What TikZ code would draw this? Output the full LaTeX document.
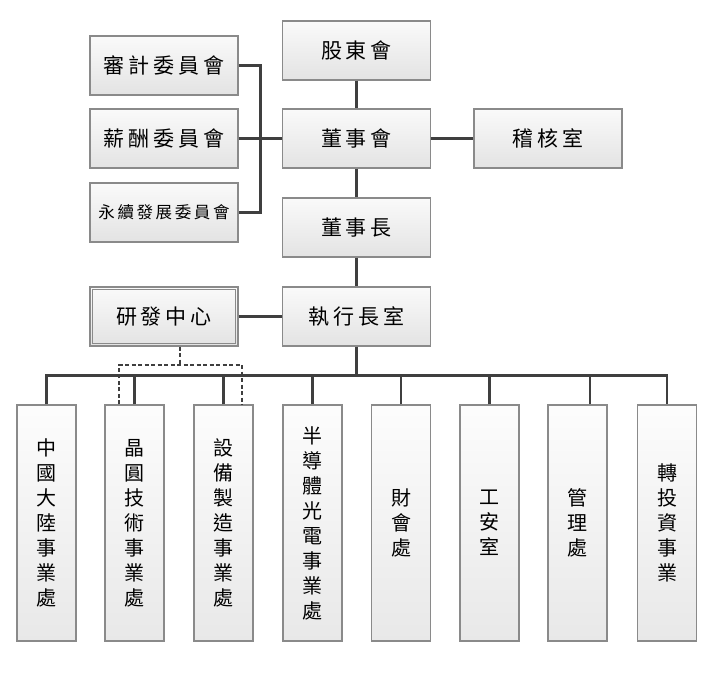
\documentclass[tikz,border=0pt]{standalone}
\usepackage{fontspec}
\newfontfamily\cjk{Noto Sans CJK TC}
\definecolor{bordc}{HTML}{8A8A8A}
\definecolor{linec}{HTML}{3F3F3F}
\newcommand{\gp}{\kern4pt}
\newcommand{\gs}{\kern2.6pt}
\begin{document}
\begin{tikzpicture}[x=1pt,y=-1pt,
  box/.style={draw=bordc, line width=1.3pt, top color=white!98!black, bottom color=white!89!black,
    minimum width=148pt, minimum height=59pt, inner sep=0pt, font=\cjk\fontsize{21}{25}\selectfont},
  vbox/.style={draw=bordc, line width=1.3pt, top color=white!99!black, bottom color=white!91!black,
    minimum width=59pt, minimum height=236pt, inner sep=0pt, align=center,
    font=\cjk\fontsize{20}{25}\selectfont},
  conn/.style={draw=linec, line width=2.6pt},
  dconn/.style={draw=linec, line width=2.4pt, dash pattern=on 4pt off 2.5pt}]
\useasboundingbox (0,0) rectangle (723,675);
% top nodes
\node[box] (audit) at (164,65.5) {審\gp 計\gp 委\gp 員\gp 會};
\node[box] (comp)  at (164,138.5) {薪\gp 酬\gp 委\gp 員\gp 會};
\node[box, font=\cjk\fontsize{16.5}{20}\selectfont] (esg) at (164,212.5) {永\gs 續\gs 發\gs 展\gs 委\gs 員\gs 會};
\node[box] (share) at (356.5,50.5) {股\gp 東\gp 會};
\node[box] (board) at (356.5,138.5) {董\gp 事\gp 會};
\node[box] (audit2) at (548,138.5) {稽\gp 核\gp 室};
\node[box] (chair) at (356.5,227.5) {董\gp 事\gp 長};
\node[box] (ceo) at (356.5,316.5) {執\gp 行\gp 長\gp 室};
\node[box] (rd) at (164,316.5) {研\gp 發\gp 中\gp 心};
\draw[draw=bordc, line width=1pt] ([shift={(3.5,3.5)}]rd.north west) rectangle ([shift={(-3.5,-3.5)}]rd.south east);
% bottom nodes
\node[vbox] (b1) at (46.5,523) {中\\國\\大\\陸\\事\\業\\處};
\node[vbox] (b2) at (134.5,523) {晶\\圓\\技\\術\\事\\業\\處};
\node[vbox] (b3) at (223.5,523) {設\\備\\製\\造\\事\\業\\處};
\node[vbox] (b4) at (312.5,523) {半\\導\\體\\光\\電\\事\\業\\處};
\node[vbox] (b5) at (401,523) {財\\會\\處};
\node[vbox] (b6) at (489.5,523) {工\\安\\室};
\node[vbox] (b7) at (577.5,523) {管\\理\\處};
\node[vbox] (b8) at (667,523) {轉\\投\\資\\事\\業};
% connectors top
\draw[conn] (audit.east) -- ++(22,0) |- (esg.east);
\draw[conn] (comp.east) -- (board.west);
\draw[conn] (share.south) -- (board.north);
\draw[conn] (board.east) -- (audit2.west);
\draw[conn] (board.south) -- (chair.north);
\draw[conn] (chair.south) -- (ceo.north);
\draw[conn] (rd.east) -- (ceo.west);
% bus
\coordinate (bus) at (356.5,375.5);
\draw[conn] (ceo.south) -- (bus);
\draw[conn] (b1.north) -- (b1.north |- bus) -- (b8.north |- bus) -- (b8.north);
\foreach \b in {b2,b3,b4,b5,b6}{\draw[conn] (\b.north) -- (\b.north |- bus);}
\draw[conn] ([xshift=12.5pt]b7.north) -- ([xshift=12.5pt]b7.north |- bus);
% dashed
\coordinate (dmid) at (180,365);
\draw[dconn] ([xshift=16pt]rd.south) -- (dmid);
\draw[dconn] ([xshift=-15.5pt]b2.north) |- (dmid) -| ([xshift=18.5pt]b3.north);
\end{tikzpicture}
\end{document}
